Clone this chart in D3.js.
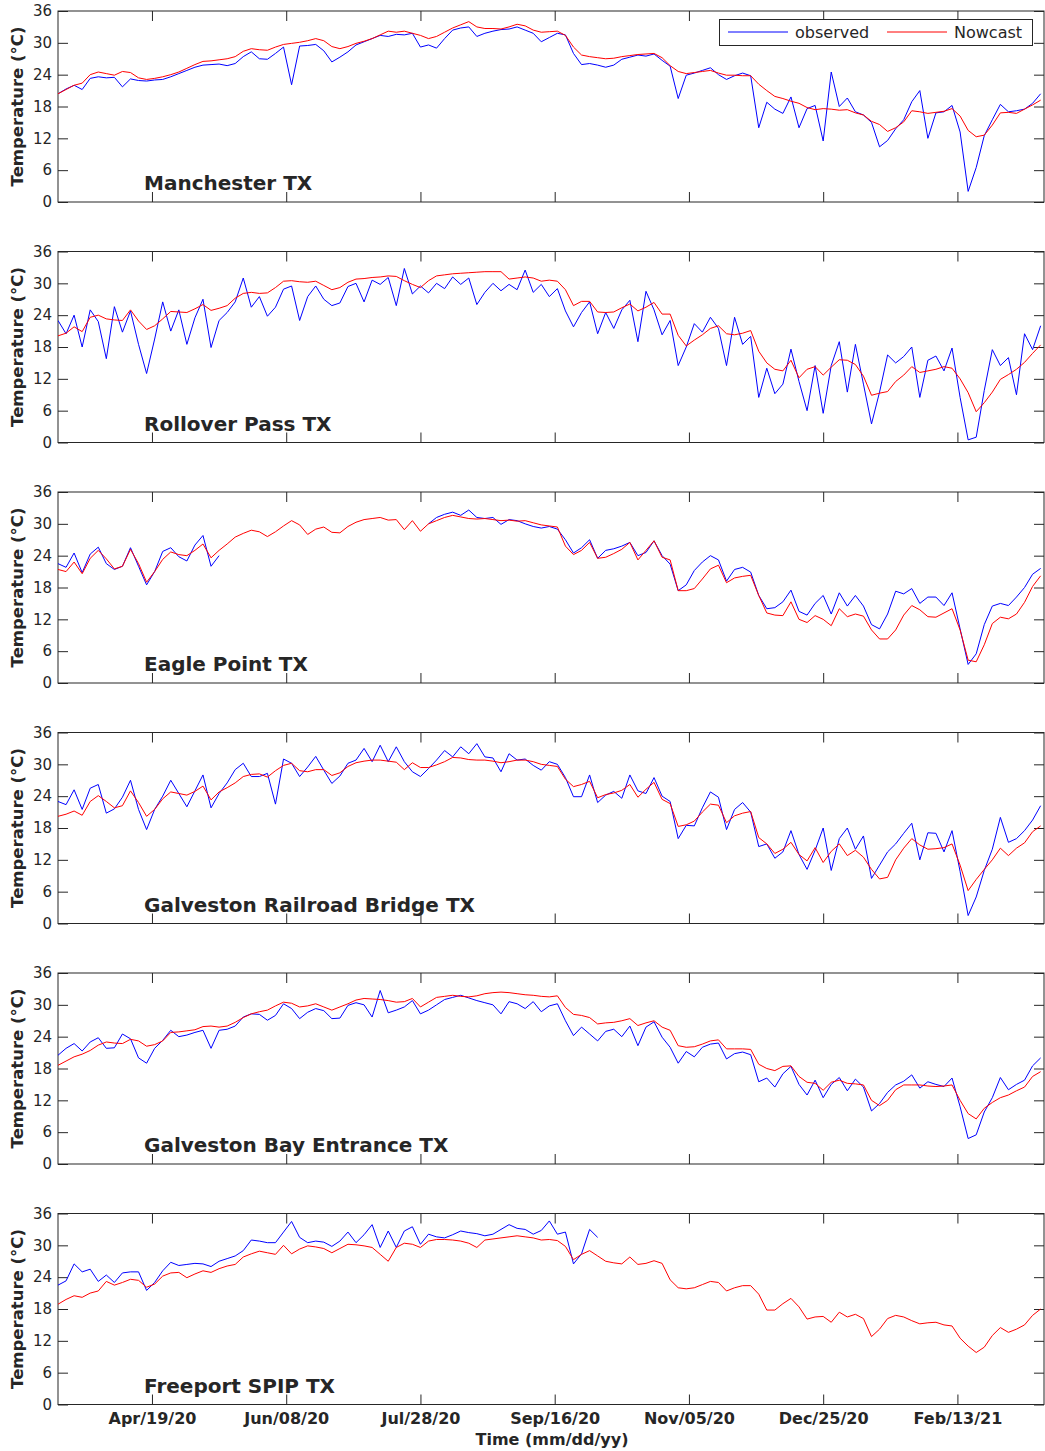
<!DOCTYPE html>
<html>
<head>
<meta charset="utf-8">
<script src="https://cdn.jsdelivr.net/npm/d3@7"></script>
<style>
  body { margin: 0; background: #fff; }
  svg text { font-family: "DejaVu Sans", sans-serif; fill: #262626; }
</style>
</head>
<body>
<div id="chart"></div>
<script>
// samples every 3 days starting 2020-03-15 (values in deg C)
const sampleStart = "2020-03-15";
const sampleStepDays = 3;

const stationNames = ["Manchester TX", "Rollover Pass TX", "Eagle Point TX",
  "Galveston Railroad Bridge TX", "Galveston Bay Entrance TX", "Freeport SPIP TX"];

const manchesterObs = [
  20.4, 21.3, 22.0, 21.2, 23.3, 23.6, 23.4, 23.5, 21.7, 23.2,
  22.9, 22.8, 23.0, 23.1, 23.6, 24.2, 24.8, 25.4, 25.8, 25.9,
  26.0, 25.7, 26.1, 27.4, 28.3, 27.0, 26.9, 28.0, 29.2, 22.1,
  29.4, 29.5, 29.7, 28.5, 26.4, 27.3, 28.3, 29.6, 30.2, 30.8,
  31.4, 31.2, 31.6, 31.5, 31.8, 29.2, 29.6, 29.0, 30.8, 32.4,
  32.8, 33.0, 31.2, 31.8, 32.2, 32.5, 32.6, 33.0, 32.4, 31.8,
  30.2, 31.0, 31.8, 31.5, 28.0, 25.9, 26.1, 25.8, 25.4, 25.8,
  26.9, 27.3, 27.7, 27.5, 27.9, 26.7, 25.6, 19.5, 23.9, 24.3,
  24.8, 25.3, 24.0, 23.1, 23.8, 24.3, 23.8, 14.0, 18.8, 17.5,
  16.7, 19.8, 14.0, 17.6, 18.2, 11.5, 24.5, 18.0, 19.6, 17.0,
  16.4, 15.0, 10.4, 11.6, 13.8, 15.5, 18.9, 21.0, 12.0, 16.8,
  17.0, 18.2, 13.2, 2.0, 6.5, 12.5, 15.5, 18.4, 17.0, 17.2,
  17.5, 18.6, 20.4];
const manchesterNow = [
  20.4, 21.2, 22.0, 22.4, 24.0, 24.5, 24.2, 23.9, 24.6, 24.4,
  23.4, 23.1, 23.3, 23.6, 24.0, 24.5, 25.2, 25.9, 26.5, 26.6,
  26.8, 27.0, 27.4, 28.4, 28.9, 28.7, 28.6, 29.2, 29.7, 29.9,
  30.1, 30.4, 30.8, 30.4, 29.3, 28.9, 29.3, 29.9, 30.3, 30.8,
  31.5, 32.2, 32.0, 32.2, 31.8, 31.4, 30.8, 31.2, 32.0, 32.8,
  33.4, 34.0, 33.0, 32.7, 32.7, 32.6, 33.0, 33.5, 33.2, 32.4,
  32.0, 32.1, 32.2, 31.4, 29.2, 27.7, 27.4, 27.2, 27.0, 27.1,
  27.4, 27.6, 27.8, 27.9, 28.0, 27.2, 25.7, 24.6, 24.2, 24.4,
  24.6, 24.8, 24.3, 23.9, 23.9, 23.8, 23.8, 22.2, 21.0, 19.9,
  19.5, 19.0, 18.6, 17.8, 17.4, 17.6, 17.5, 17.3, 17.4, 16.8,
  16.4, 15.2, 14.6, 13.3, 14.0, 15.1, 17.2, 17.0, 16.7, 16.9,
  17.1, 17.6, 16.2, 13.5, 12.3, 12.6, 14.5, 16.8, 16.9, 16.7,
  17.5, 18.3, 19.2];

const rolloverObs = [
  23.0, 20.5, 24.0, 18.0, 25.0, 22.8, 15.8, 25.6, 20.8, 24.8,
  18.5, 13.0, 19.5, 26.5, 21.0, 25.0, 18.5, 23.5, 27.0, 17.9,
  23.0, 24.5, 26.5, 31.0, 25.5, 27.5, 23.8, 25.5, 28.9, 29.5,
  23.0, 27.5, 29.5, 27.0, 25.8, 26.3, 29.4, 30.0, 26.5, 30.6,
  29.8, 31.1, 25.8, 32.8, 28.0, 29.5, 28.2, 30.0, 29.0, 31.2,
  29.8, 31.0, 26.0, 28.3, 30.0, 28.6, 29.8, 28.8, 32.5, 28.3,
  29.8, 27.5, 29.0, 24.8, 21.8, 24.5, 26.5, 20.5, 24.5, 21.5,
  25.0, 26.8, 19.0, 28.5, 25.0, 20.3, 23.0, 14.5, 18.0, 22.4,
  20.8, 23.6, 21.5, 14.5, 23.6, 18.5, 20.0, 8.5, 14.0, 9.2,
  11.0, 17.6, 11.5, 6.0, 14.5, 5.5, 14.5, 19.0, 9.5, 18.5,
  11.0, 3.5, 9.5, 16.5, 15.0, 16.2, 18.0, 8.5, 15.5, 16.3,
  13.5, 17.8, 8.5, 0.5, 1.0, 9.8, 17.5, 14.5, 16.0, 9.0,
  20.5, 17.5, 22.0];
const rolloverNow = [
  20.1, 20.6, 21.8, 20.9, 23.6, 24.0, 23.3, 23.1, 23.0, 25.0,
  22.9, 21.3, 22.0, 23.3, 24.7, 24.6, 24.5, 25.2, 26.0, 24.9,
  25.3, 25.8, 27.2, 28.1, 28.3, 28.1, 28.2, 29.2, 30.4, 30.5,
  30.3, 30.2, 30.4, 29.6, 28.8, 29.2, 30.2, 30.8, 30.9, 31.1,
  31.2, 31.4, 31.3, 30.5, 29.8, 29.2, 30.5, 31.4, 31.6, 31.8,
  31.9, 32.0, 32.1, 32.2, 32.2, 32.2, 30.8, 31.0, 31.2, 31.0,
  30.4, 30.6, 30.4, 28.8, 25.8, 26.6, 26.6, 24.6, 24.5, 24.6,
  25.4, 26.1, 24.8, 25.5, 26.4, 24.2, 24.2, 20.2, 18.2, 19.3,
  20.3, 21.5, 22.0, 20.5, 20.3, 20.6, 21.1, 17.2, 15.0, 13.8,
  13.5, 15.5, 12.2, 13.8, 14.3, 12.7, 14.2, 15.6, 15.5, 14.7,
  12.5, 8.9, 9.3, 9.6, 11.5, 12.7, 14.3, 13.2, 13.5, 13.8,
  14.3, 14.0, 12.0, 9.4, 5.8, 7.5, 9.5, 11.9, 12.8, 13.8,
  15.1, 16.8, 18.4];

// observed record has a gap in early summer
const eagleObs = [
  22.5, 21.8, 24.5, 20.8, 24.3, 25.6, 22.5, 21.4, 22.0, 25.5,
  22.0, 18.5, 21.0, 24.8, 25.5, 23.8, 23.0, 26.0, 27.8, 22.0,
  24.0, null, null, null, null, null, null, null, null, null,
  null, null, null, null, null, null, null, null, null, null,
  null, null, null, null, null, null, 30.0, 31.2, 31.8, 32.2,
  31.6, 32.6, 31.2, 31.0, 31.2, 29.9, 30.8, 30.6, 30.0, 29.5,
  29.2, 29.5, 29.0, 27.0, 24.5, 25.5, 27.0, 23.5, 25.0, 25.3,
  25.8, 26.5, 24.0, 24.6, 26.8, 24.0, 22.4, 17.4, 18.5, 21.2,
  22.8, 24.0, 23.2, 19.2, 21.4, 21.8, 20.9, 16.5, 14.0, 14.2,
  15.3, 17.5, 13.5, 12.8, 15.0, 16.5, 13.0, 17.0, 14.5, 16.5,
  14.5, 11.0, 10.2, 13.0, 17.3, 16.8, 17.8, 15.0, 16.2, 16.2,
  14.6, 17.0, 10.2, 3.5, 5.5, 11.0, 14.5, 15.0, 14.6, 16.2,
  18.0, 20.5, 21.6];
const eagleNow = [
  21.4, 21.0, 22.8, 20.6, 23.5, 25.0, 23.4, 21.5, 22.0, 25.2,
  22.5, 19.0, 21.0, 23.3, 24.7, 24.2, 24.0, 25.0, 26.2, 23.6,
  25.0, 26.2, 27.5, 28.2, 28.8, 28.5, 27.6, 28.5, 29.6, 30.6,
  29.8, 28.0, 29.0, 29.4, 28.4, 28.3, 29.5, 30.3, 30.8, 31.0,
  31.2, 30.7, 30.8, 28.9, 30.6, 28.6, 30.0, 30.6, 31.2, 31.6,
  31.3, 31.0, 30.9, 31.0, 30.8, 30.6, 30.7, 30.5, 30.6, 30.2,
  29.8, 29.6, 29.4, 25.8, 24.2, 25.0, 26.5, 23.5, 23.7, 24.4,
  25.2, 26.5, 23.2, 25.0, 26.8, 23.7, 23.2, 17.4, 17.4, 17.8,
  19.6, 21.5, 22.2, 18.9, 19.8, 20.1, 20.3, 16.5, 13.2, 12.8,
  12.7, 15.3, 12.0, 11.4, 12.7, 12.0, 10.8, 14.0, 12.5, 13.0,
  12.6, 10.0, 8.3, 8.3, 10.0, 12.8, 14.6, 13.8, 12.5, 12.4,
  13.2, 14.0, 10.0, 4.3, 4.0, 7.2, 11.2, 12.4, 12.1, 13.0,
  15.2, 18.2, 20.2];

const railroadObs = [
  23.0, 22.4, 25.2, 21.5, 25.5, 26.2, 20.8, 21.6, 23.8, 27.0,
  21.5, 17.7, 21.5, 24.0, 27.0, 24.5, 22.0, 25.0, 28.0, 21.8,
  24.5, 26.5, 29.0, 30.2, 27.7, 27.7, 28.3, 22.5, 31.0, 30.2,
  27.7, 29.5, 31.5, 28.9, 26.4, 27.8, 30.2, 30.8, 33.0, 30.5,
  33.6, 30.5, 33.3, 30.5, 28.6, 27.7, 29.2, 30.8, 32.6, 31.4,
  33.3, 32.0, 33.9, 31.4, 31.2, 28.6, 32.0, 30.8, 31.0, 29.8,
  28.9, 30.5, 30.0, 27.5, 23.9, 23.9, 28.0, 22.8, 24.2, 24.9,
  23.6, 28.0, 25.0, 24.5, 27.5, 24.0, 23.0, 16.0, 18.5, 18.4,
  21.8, 24.8, 23.8, 17.7, 21.5, 22.8, 21.0, 14.5, 15.0, 12.3,
  13.5, 17.5, 13.0, 10.2, 13.8, 18.0, 10.0, 16.0, 18.0, 14.0,
  16.5, 8.5, 11.0, 13.5, 15.0, 17.0, 18.9, 12.0, 17.1, 17.0,
  13.5, 17.5, 9.8, 1.5, 5.0, 10.0, 14.0, 20.0, 15.3, 16.0,
  17.5, 19.5, 22.2];
const railroadNow = [
  20.2, 20.6, 21.2, 20.4, 23.0, 24.1, 23.0, 21.8, 22.2, 25.0,
  22.8, 20.2, 21.5, 23.5, 24.8, 24.5, 24.2, 24.9, 25.9, 23.3,
  24.8, 25.6, 26.5, 27.7, 28.1, 28.2, 27.6, 28.8, 29.8, 30.2,
  28.8, 28.6, 29.0, 29.0, 27.9, 28.4, 29.6, 30.3, 30.6, 30.8,
  30.8, 30.6, 30.4, 29.0, 30.3, 29.4, 29.4, 29.9, 30.5, 31.3,
  31.2, 30.9, 30.8, 30.8, 30.6, 30.3, 30.5, 30.8, 30.8, 30.5,
  30.0, 29.8, 29.6, 27.2, 25.8, 26.2, 26.8, 23.7, 24.3, 24.6,
  25.1, 26.2, 23.8, 25.3, 26.6, 23.4, 22.6, 18.3, 18.6, 19.3,
  21.0, 22.5, 22.3, 19.0, 20.3, 20.8, 21.1, 16.2, 15.0, 13.2,
  14.0, 15.3, 13.0, 11.8, 14.3, 11.5, 13.6, 15.0, 12.8, 13.8,
  12.5, 10.2, 8.4, 8.7, 12.0, 14.2, 16.0, 14.8, 14.0, 14.1,
  14.3, 15.0, 11.0, 6.2, 8.3, 10.2, 12.0, 14.2, 12.8, 14.2,
  15.2, 17.3, 18.4];

const bayEntranceObs = [
  20.5, 21.8, 22.7, 21.3, 23.0, 23.8, 21.8, 21.9, 24.5, 23.6,
  20.0, 19.0, 21.8, 23.3, 25.2, 24.0, 24.3, 24.8, 25.2, 21.8,
  25.2, 25.4, 26.0, 27.7, 28.3, 28.2, 27.1, 28.0, 30.2, 29.3,
  27.4, 28.6, 29.3, 28.9, 27.4, 27.5, 29.9, 30.4, 30.0, 27.7,
  32.7, 28.5, 29.0, 29.6, 30.8, 28.3, 29.0, 30.0, 31.0, 31.4,
  31.8, 31.3, 30.8, 30.4, 30.0, 28.3, 30.6, 30.2, 29.3, 30.6,
  28.7, 29.8, 30.2, 27.0, 24.2, 25.8, 24.5, 23.2, 25.0, 25.4,
  24.0, 26.0, 22.3, 25.8, 26.8, 23.9, 22.0, 19.0, 21.2, 20.2,
  22.0, 22.6, 22.8, 19.8, 20.8, 21.1, 20.6, 15.5, 16.2, 14.5,
  17.0, 18.4, 15.0, 13.0, 15.8, 12.5, 15.0, 16.3, 13.8, 16.0,
  14.5, 10.0, 11.4, 13.5, 14.9, 15.6, 16.8, 14.3, 15.5, 15.0,
  14.6, 16.2, 10.8, 4.8, 5.5, 9.8, 12.5, 16.3, 14.0, 15.0,
  15.8, 18.5, 20.0];
const bayEntranceNow = [
  18.6, 19.4, 20.2, 20.7, 21.4, 22.4, 23.0, 22.8, 22.7, 23.5,
  23.2, 22.2, 22.5, 23.2, 24.8, 24.9, 25.1, 25.3, 25.9, 26.0,
  25.8, 26.0, 26.7, 27.6, 28.3, 28.7, 29.0, 29.8, 30.5, 30.3,
  29.6, 29.8, 30.2, 29.6, 29.0, 29.6, 30.2, 30.9, 31.2, 31.1,
  31.0, 30.8, 30.5, 30.6, 31.2, 29.6, 30.5, 31.4, 31.6, 31.8,
  31.6, 31.5, 31.7, 32.1, 32.3, 32.4, 32.3, 32.1, 31.9, 31.8,
  31.6, 31.5, 31.7, 29.5, 28.2, 28.0, 27.6, 26.4, 26.6, 26.7,
  27.0, 27.4, 26.1, 26.6, 27.0, 25.8, 25.2, 22.3, 22.0, 22.1,
  22.6, 23.2, 23.4, 21.7, 21.7, 21.7, 21.6, 18.8, 18.0, 17.6,
  18.4, 18.5, 16.5, 15.4, 15.2, 13.9, 15.4, 15.8, 15.2, 15.1,
  14.9, 12.0, 11.0, 12.0, 14.0, 14.9, 14.9, 14.9, 14.7, 14.6,
  14.7, 14.9, 12.0, 9.5, 8.5, 10.5, 11.6, 12.5, 13.0, 13.8,
  14.5, 16.5, 17.4];

// observed record ends at the start of October
const freeportObs = [
  22.5, 23.3, 26.5, 25.0, 25.5, 23.2, 24.4, 23.0, 24.8, 25.0,
  25.0, 21.5, 23.0, 25.2, 26.8, 26.2, 26.4, 26.6, 26.5, 26.0,
  27.0, 27.5, 28.0, 29.0, 31.0, 30.8, 30.5, 30.5, 32.5, 34.5,
  31.5, 30.5, 30.8, 30.6, 29.8, 30.8, 32.5, 30.5, 32.0, 33.9,
  29.6, 32.7, 29.6, 32.7, 33.5, 30.2, 32.1, 31.6, 31.4, 32.0,
  32.7, 32.4, 32.2, 31.8, 32.1, 33.0, 33.9, 33.2, 33.0, 32.1,
  32.8, 34.6, 32.1, 32.5, 26.5, 28.4, 33.0, 31.5];
const freeportNow = [
  18.9, 19.8, 20.5, 20.2, 21.0, 21.4, 23.2, 22.5, 23.0, 23.6,
  23.4, 22.1, 22.7, 24.2, 24.8, 24.9, 23.9, 24.6, 25.2, 24.9,
  25.6, 26.1, 26.4, 27.8, 28.4, 28.9, 28.6, 28.3, 30.0, 28.4,
  29.3, 29.9, 29.7, 29.4, 28.6, 29.4, 30.2, 30.1, 29.9, 29.6,
  28.3, 27.0, 29.6, 30.4, 30.2, 29.6, 30.8, 31.1, 31.1, 31.0,
  30.8, 30.4, 29.6, 31.0, 31.2, 31.4, 31.6, 31.8, 31.6, 31.4,
  31.0, 31.1, 30.9, 29.8, 27.3, 28.3, 29.0, 28.0, 27.0, 26.7,
  26.5, 27.8, 26.4, 26.6, 27.1, 26.6, 23.5, 22.0, 21.8, 22.0,
  22.6, 23.2, 23.0, 21.4, 22.0, 22.4, 22.4, 20.8, 17.8, 17.8,
  19.0, 20.0, 18.4, 16.1, 16.5, 16.6, 15.5, 17.4, 16.5, 17.0,
  16.2, 12.8, 14.2, 16.2, 16.8, 16.5, 15.8, 15.2, 15.4, 15.5,
  15.0, 14.8, 12.5, 11.0, 9.8, 10.8, 13.0, 14.5, 13.6, 14.2,
  15.0, 16.8, 18.0];

const yTicks = [0, 6, 12, 18, 24, 30, 36];
const xTickDates = ["2020-04-19", "2020-06-08", "2020-07-28", "2020-09-16",
  "2020-11-05", "2020-12-25", "2021-02-13"];
const legendLabels = ["observed", "Nowcast"];

const obsSeries = [manchesterObs, rolloverObs, eagleObs, railroadObs, bayEntranceObs, freeportObs];
const nowSeries = [manchesterNow, rolloverNow, eagleNow, railroadNow, bayEntranceNow, freeportNow];

const width = 1045, height = 1451;
const plotLeft = 58, plotRight = 1044;
const panelTop0 = 11, panelStep = 240.5, panelH = 191;
const obsColor = "#0000ff", nowColor = "#ff0000", axisColor = "#262626";

const parseDay = d3.timeParse("%Y-%m-%d");
const t0 = parseDay(sampleStart);
const tEnd = d3.timeHour.offset(parseDay("2021-03-17"), 6);
const sampleDates = d3.range(nowSeries[0].length).map(k => d3.timeDay.offset(t0, k * sampleStepDays));

const x = d3.scaleTime().domain([t0, tEnd]).range([plotLeft, plotRight]);
const tickDates = xTickDates.map(parseDay);
const fmtTick = d3.timeFormat("%b/%d/%y");

const svg = d3.select("#chart").append("svg")
  .attr("width", width)
  .attr("height", height);

svg.append("rect").attr("width", width).attr("height", height).attr("fill", "#fff");

stationNames.forEach(function(name, i) {
  let top = panelTop0 + i * panelStep;
  let bottom = top + panelH;
  let y = d3.scaleLinear().domain([0, 36]).range([bottom, top]);
  let g = svg.append("g").attr("class", "panel");

  // axes (ticks point inward, MATLAB box style)
  let yAxisL = d3.axisLeft(y).tickValues(yTicks).tickSizeInner(-10).tickSizeOuter(0).tickPadding(6);
  let yAxisR = d3.axisRight(y).tickValues(yTicks).tickSizeInner(-10).tickSizeOuter(0).tickFormat("");
  let xAxisB = d3.axisBottom(x).tickValues(tickDates).tickSizeInner(-10).tickSizeOuter(0).tickPadding(8)
    .tickFormat(i === stationNames.length - 1 ? fmtTick : "");
  let xAxisT = d3.axisTop(x).tickValues(tickDates).tickSizeInner(-10).tickSizeOuter(0).tickFormat("");

  g.append("g").attr("transform", "translate(" + plotLeft + ",0)").call(yAxisL)
    .call(a => a.selectAll("text").style("font-size", "15px").attr("fill", axisColor));
  g.append("g").attr("transform", "translate(" + plotRight + ",0)").call(yAxisR);
  g.append("g").attr("transform", "translate(0," + bottom + ")").call(xAxisB)
    .call(a => a.selectAll("text").style("font-size", "16px").style("font-weight", "bold").attr("fill", axisColor));
  g.append("g").attr("transform", "translate(0," + top + ")").call(xAxisT);

  g.selectAll(".domain").remove();
  g.selectAll(".tick line").attr("stroke", axisColor);

  g.append("rect")
    .attr("x", plotLeft).attr("y", top)
    .attr("width", plotRight - plotLeft).attr("height", panelH)
    .attr("fill", "none").attr("stroke", axisColor).attr("stroke-width", 1);

  // data lines
  let clipId = "clip" + i;
  svg.append("clipPath").attr("id", clipId).append("rect")
    .attr("x", plotLeft).attr("y", top).attr("width", plotRight - plotLeft).attr("height", panelH);

  let line = d3.line()
    .defined(d => d.v != null)
    .x(d => x(d.t))
    .y(d => y(d.v));

  let lines = g.append("g").attr("clip-path", "url(#" + clipId + ")");
  lines.append("path")
    .attr("d", line(obsSeries[i].map((v, k) => ({t: sampleDates[k], v: v}))))
    .attr("fill", "none").attr("stroke", obsColor).attr("stroke-width", 1);
  lines.append("path")
    .attr("d", line(nowSeries[i].map((v, k) => ({t: sampleDates[k], v: v}))))
    .attr("fill", "none").attr("stroke", nowColor).attr("stroke-width", 1);

  // labels
  g.append("text")
    .attr("x", plotLeft + 86)
    .attr("y", bottom - 12)
    .style("font-size", "20px")
    .style("font-weight", "bold")
    .attr("fill", "#000")
    .text(name);

  g.append("text")
    .attr("transform", "translate(23," + (top + panelH / 2) + ") rotate(-90)")
    .style("text-anchor", "middle")
    .style("font-size", "16.5px")
    .style("font-weight", "bold")
    .text("Temperature (\u00B0C)");
});

// x axis title
svg.append("text")
  .attr("x", 552)
  .attr("y", 1445)
  .style("text-anchor", "middle")
  .style("font-size", "16px")
  .style("font-weight", "bold")
  .text("Time (mm/dd/yy)");

// legend in the first panel
let legend = svg.append("g");
legend.append("rect")
  .attr("x", 719.5).attr("y", 19.5).attr("width", 313).attr("height", 26)
  .attr("fill", "#fff").attr("stroke", axisColor);
[obsColor, nowColor].forEach(function(c, j) {
  let lx = 728 + j * 159;
  legend.append("line")
    .attr("x1", lx).attr("x2", lx + 60).attr("y1", 32).attr("y2", 32)
    .attr("stroke", c).attr("stroke-width", 1);
  legend.append("text")
    .attr("x", lx + 67).attr("y", 37.5)
    .style("font-size", "16px")
    .text(legendLabels[j]);
});
</script>
</body>
</html>
